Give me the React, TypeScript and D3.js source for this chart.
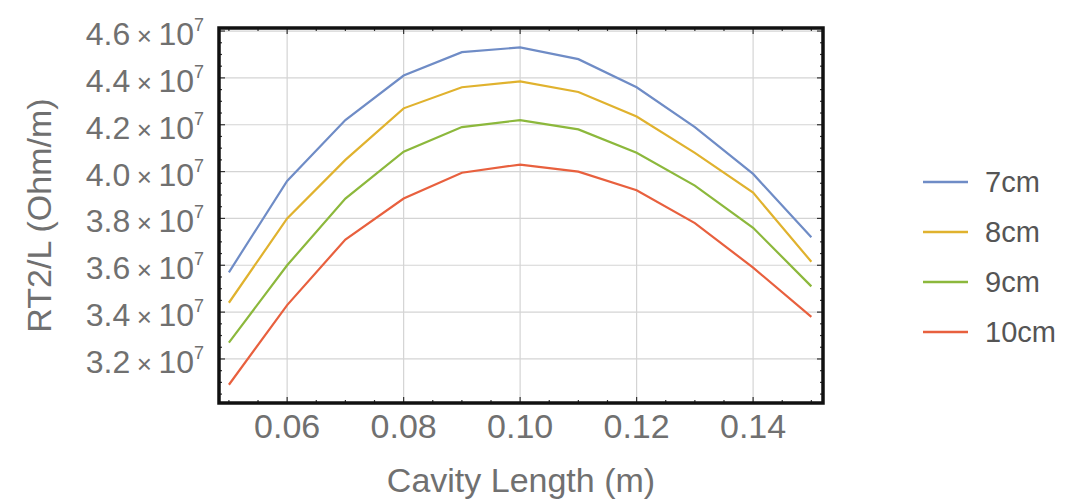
import React from "react";
import * as d3 from "d3";

// cavity length (m)
const lengths = [0.05, 0.06, 0.07, 0.08, 0.09, 0.1, 0.11, 0.12, 0.13, 0.14, 0.15];

// RT2/L (Ohm/m), in units of 1e7
const s7cm = [3.57, 3.96, 4.22, 4.41, 4.51, 4.53, 4.48, 4.36, 4.19, 3.99, 3.72];
const s8cm = [3.44, 3.8, 4.05, 4.27, 4.36, 4.385, 4.34, 4.235, 4.08, 3.91, 3.615];
const s9cm = [3.27, 3.6, 3.885, 4.085, 4.19, 4.22, 4.18, 4.08, 3.94, 3.76, 3.51];
const s10cm = [3.09, 3.43, 3.71, 3.885, 3.995, 4.03, 4.0, 3.92, 3.78, 3.59, 3.38];

const seriesNames = ["7cm", "8cm", "9cm", "10cm"];
const seriesValues = [s7cm, s8cm, s9cm, s10cm];
const colors = ["#6f8cc6", "#e0b22e", "#8cb83c", "#e8603e"];

const xTicks = [0.06, 0.08, 0.1, 0.12, 0.14];
const yTicks = [3.2, 3.4, 3.6, 3.8, 4.0, 4.2, 4.4, 4.6];

const W = 1068;
const H = 502;
const frame = { left: 219, right: 823, top: 28, bottom: 403 };
const font = "'Liberation Sans', Arial, sans-serif";
const textColor = "#707070";

export default function App() {
  const x = d3.scaleLinear().domain([0.0483, 0.152]).range([frame.left, frame.right]);
  const y = d3.scaleLinear().domain([3.012, 4.613]).range([frame.bottom, frame.top]);

  const line = d3
    .line<[number, number]>()
    .x(d => x(d[0]))
    .y(d => y(d[1]));

  const minorX = d3.range(0.05, 0.1501, 0.005).filter(v => !xTicks.some(t => Math.abs(t - v) < 1e-6));
  const minorY = d3.range(3.05, 4.6, 0.05).filter(v => !yTicks.some(t => Math.abs(t - v) < 1e-6));

  return (
    <svg width={W} height={H} style={{ position: "absolute", left: 0, top: 0, background: "#fff" }}>
      {/* grid */}
      <g stroke="#d4d4d4" strokeWidth={1.2}>
        {xTicks.map(t => (
          <line key={"gx" + t} x1={x(t)} x2={x(t)} y1={frame.top} y2={frame.bottom} />
        ))}
        {yTicks.map(t => (
          <line key={"gy" + t} x1={frame.left} x2={frame.right} y1={y(t)} y2={y(t)} />
        ))}
      </g>

      {/* series */}
      {seriesValues.map((vals, i) => (
        <path
          key={seriesNames[i]}
          d={line(lengths.map((l, j) => [l, vals[j]] as [number, number])) || ""}
          fill="none"
          stroke={colors[i]}
          strokeWidth={2.2}
        />
      ))}

      {/* ticks */}
      <g stroke="#333" strokeWidth={1.2}>
        {xTicks.map(t => (
          <g key={"tx" + t}>
            <line x1={x(t)} x2={x(t)} y1={frame.bottom} y2={frame.bottom - 6} />
            <line x1={x(t)} x2={x(t)} y1={frame.top} y2={frame.top + 6} />
          </g>
        ))}
        {minorX.map(t => (
          <g key={"mx" + t}>
            <line x1={x(t)} x2={x(t)} y1={frame.bottom} y2={frame.bottom - 3} />
            <line x1={x(t)} x2={x(t)} y1={frame.top} y2={frame.top + 3} />
          </g>
        ))}
        {yTicks.map(t => (
          <g key={"ty" + t}>
            <line x1={frame.left} x2={frame.left + 6} y1={y(t)} y2={y(t)} />
            <line x1={frame.right} x2={frame.right - 6} y1={y(t)} y2={y(t)} />
          </g>
        ))}
        {minorY.map(t => (
          <g key={"my" + t}>
            <line x1={frame.left} x2={frame.left + 3} y1={y(t)} y2={y(t)} />
            <line x1={frame.right} x2={frame.right - 3} y1={y(t)} y2={y(t)} />
          </g>
        ))}
      </g>

      {/* frame */}
      <rect
        x={frame.left}
        y={frame.top}
        width={frame.right - frame.left}
        height={frame.bottom - frame.top}
        fill="none"
        stroke="#111"
        strokeWidth={3.5}
      />

      {/* x tick labels */}
      <g fontFamily={font} fontSize={34} fill={textColor} textAnchor="middle">
        {xTicks.map(t => (
          <text key={"lx" + t} x={x(t)} y={frame.bottom + 35}>
            {d3.format(".2f")(t)}
          </text>
        ))}
      </g>

      {/* y tick labels */}
      <g fontFamily={font} fontSize={32} fill={textColor} textAnchor="end">
        {yTicks.map(t => (
          <text key={"ly" + t} x={204} y={y(t) + 14}>
            {d3.format(".1f")(t)}
            <tspan fontSize={26}>{"\u2005×\u2005"}</tspan>
            {"10"}
            <tspan fontSize={18} dy={-14}>7</tspan>
          </text>
        ))}
      </g>

      {/* axis titles */}
      <text
        x={(frame.left + frame.right) / 2}
        y={492}
        fontFamily={font}
        fontSize={34}
        fill={textColor}
        textAnchor="middle"
      >
        Cavity Length (m)
      </text>
      <text
        transform={`translate(51, ${(frame.top + frame.bottom) / 2}) rotate(-90)`}
        fontFamily={font}
        fontSize={34}
        fill={textColor}
        textAnchor="middle"
      >
        RT2/L (Ohm/m)
      </text>

      {/* legend */}
      {seriesNames.map((name, i) => {
        const ly = 182 + i * 50;
        return (
          <g key={"lg" + name}>
            <line x1={923} x2={968} y1={ly} y2={ly} stroke={colors[i]} strokeWidth={2.5} />
            <text x={985} y={ly + 10} fontFamily={font} fontSize={29} fill="#555">
              {name}
            </text>
          </g>
        );
      })}
    </svg>
  );
}
